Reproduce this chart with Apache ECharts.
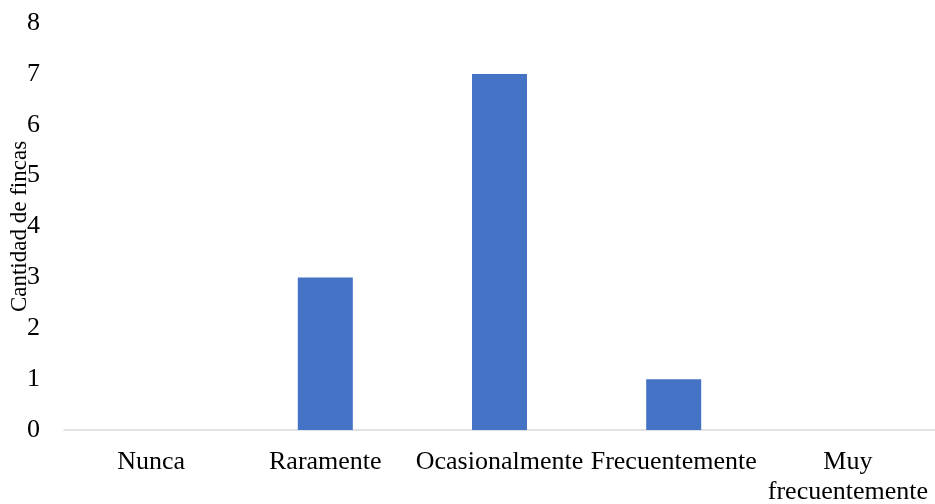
<!DOCTYPE html>
<html>
<head>
<meta charset="utf-8">
<script src="https://cdn.jsdelivr.net/npm/echarts@6/dist/echarts.min.js"></script>
<style>
  html, body { margin: 0; padding: 0; background: #fff; }
  #chart { width: 935px; height: 504px; }
</style>
</head>
<body>
<div id="chart"></div>
<script>
// data
const categories = ['Nunca', 'Raramente', 'Ocasionalmente', 'Frecuentemente', 'Muy\nfrecuentemente'];
const fincas = [0, 3, 7, 1, 0];
const yTitle = 'Cantidad de fincas';

const chart = echarts.init(document.getElementById('chart'));
chart.setOption({
    animation: false,
    textStyle: { fontFamily: 'Liberation Serif' },
    grid: { left: 64, right: 0, top: 23, bottom: 74, outerBoundsMode: 'none' },
    xAxis: {
        type: 'category',
        data: categories,
        axisLine: { lineStyle: { color: '#d9d9d9', width: 1.5 } },
        axisTick: { show: false },
        axisLabel: { color: '#000', fontSize: 26, margin: 17, lineHeight: 30, interval: 0 }
    },
    yAxis: {
        type: 'value',
        min: 0,
        max: 8,
        interval: 1,
        name: yTitle,
        nameLocation: 'middle',
        nameGap: 33,
        nameMoveOverlap: false,
        nameTextStyle: { color: '#000', fontSize: 23 },
        splitLine: { show: false },
        axisLine: { show: false },
        axisTick: { show: false },
        axisLabel: { color: '#000', fontSize: 26, margin: 24 }
    },
    series: [{
        type: 'bar',
        data: fincas,
        barWidth: 55,
        itemStyle: { color: '#4472c4' }
    }]
});
</script>
</body>
</html>
